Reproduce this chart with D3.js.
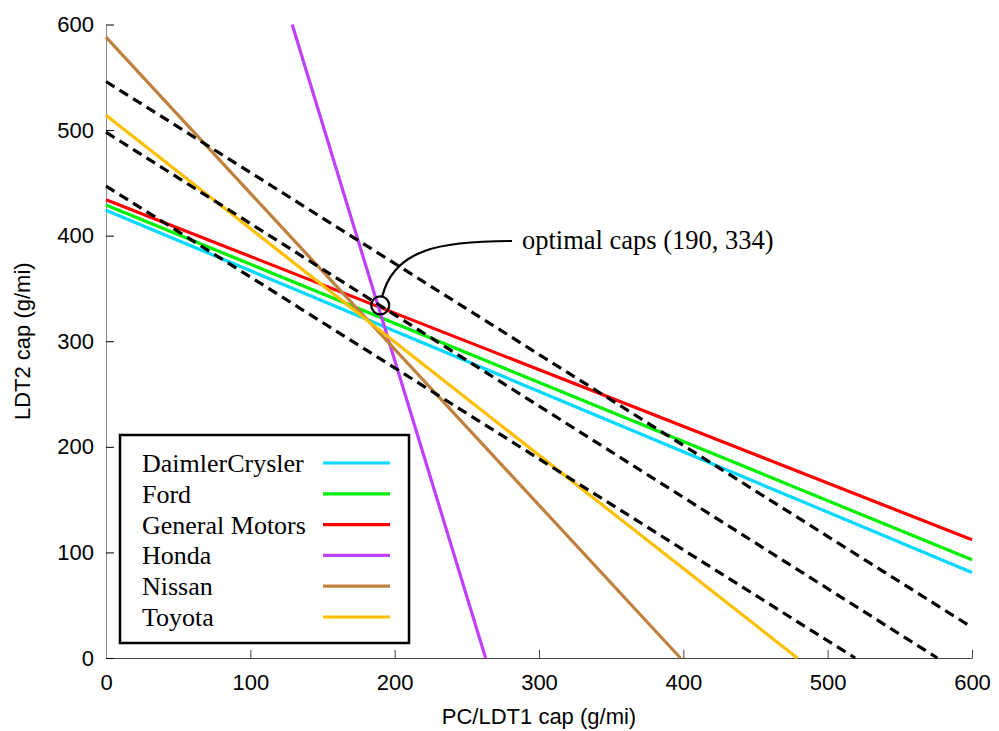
<!DOCTYPE html>
<html>
<head>
<meta charset="utf-8">
<script src="https://cdn.jsdelivr.net/npm/d3@7"></script>
<style>
  body { margin: 0; background: #fff; }
  .tick text { font-family: "Liberation Sans", Arial, sans-serif; font-size: 22px; fill: #000; }
</style>
</head>
<body>
<svg id="chart" width="999" height="731"></svg>
<script>
// company lines, each one given by two end points (x, y) in g/mi
const companies = ['DaimlerCrysler', 'Ford', 'General Motors', 'Honda', 'Nissan', 'Toyota']
const colors = ['#00d8ff', '#00ee00', '#ff0000', '#c040ff', '#c0803e', '#ffbe00']
const lineStart = [[0, 424], [0, 429], [0, 434], [129, 600], [0, 588], [0, 514]]
const lineEnd = [[600, 81], [600, 93], [600, 112], [263, 0], [398, 0], [479, 0]]

// dashed iso lines
const dashStart = [[0, 546], [0, 498], [0, 447]]
const dashEnd = [[600, 29], [576, 0], [519, 0]]

const optimum = [190, 334]
const optimumLabel = 'optimal caps (190, 334)'

const xTicks = [0, 100, 200, 300, 400, 500, 600]
const yTicks = [0, 100, 200, 300, 400, 500, 600]

const svg = d3.select('#chart')

const x = d3.scaleLinear().domain([0, 600]).range([106, 972])
const y = d3.scaleLinear().domain([0, 600]).range([658, 24.5])

// axes (ticks point inwards)
svg.append('g')
	.attr('transform', 'translate(0,' + y(0) + ')')
	.call(d3.axisBottom(x).tickValues(xTicks).tickSizeInner(-8).tickSizeOuter(0).tickPadding(16))
	.call(g => g.select('.domain').attr('stroke', '#444'))
	.call(g => g.selectAll('.tick line').attr('stroke', '#444'))

svg.append('g')
	.attr('transform', 'translate(' + x(0) + ',0)')
	.call(d3.axisLeft(y).tickValues(yTicks).tickSizeInner(-8).tickSizeOuter(0).tickPadding(12))
	.call(g => g.select('.domain').attr('stroke', '#888'))
	.call(g => g.selectAll('.tick line').attr('stroke', '#000'))

// axis titles
svg.append('text')
	.attr('x', (x(0) + x(600)) / 2)
	.attr('y', 724)
	.attr('text-anchor', 'middle')
	.style('font-family', '"Liberation Sans", Arial, sans-serif')
	.style('font-size', '22px')
	.text('PC/LDT1 cap (g/mi)')

svg.append('text')
	.attr('transform', 'translate(30,' + (y(0) + y(600)) / 2 + ') rotate(-90)')
	.attr('text-anchor', 'middle')
	.style('font-family', '"Liberation Sans", Arial, sans-serif')
	.style('font-size', '22px')
	.text('LDT2 cap (g/mi)')

const line = d3.line()
	.x(d => x(d[0]))
	.y(d => y(d[1]))

// company lines
companies.forEach((c, i) => {
	svg.append('path')
		.datum([lineStart[i], lineEnd[i]])
		.attr('fill', 'none')
		.attr('stroke', colors[i])
		.attr('stroke-width', 3.2)
		.attr('d', line)
})

// dashed lines on top
dashStart.forEach((s, i) => {
	svg.append('path')
		.datum([s, dashEnd[i]])
		.attr('fill', 'none')
		.attr('stroke', '#000')
		.attr('stroke-width', 3.2)
		.attr('stroke-dasharray', '10,6')
		.attr('d', line)
})

// optimum marker + callout
const ox = x(optimum[0]), oy = y(optimum[1])
const r = 9
svg.append('circle')
	.attr('cx', ox)
	.attr('cy', oy)
	.attr('r', r)
	.attr('fill', 'none')
	.attr('stroke', '#000')
	.attr('stroke-width', 2.2)

const tx = 522, ty = 241
svg.append('path')
	.attr('fill', 'none')
	.attr('stroke', '#000')
	.attr('stroke-width', 2.2)
	.attr('d', `M ${ox + 2} ${oy - r} C ${ox + 14} ${ty + 8}, ${ox + 60} ${ty}, ${tx - 10} ${ty}`)

svg.append('text')
	.attr('x', tx)
	.attr('y', ty + 8)
	.style('font-family', '"Liberation Serif", "Times New Roman", serif')
	.style('font-size', '26.5px')
	.text(optimumLabel)

// legend
const legend = svg.append('g')
legend.append('rect')
	.attr('x', 120)
	.attr('y', 435)
	.attr('width', 289)
	.attr('height', 208)
	.attr('fill', '#fff')
	.attr('stroke', '#000')
	.attr('stroke-width', 2.5)

companies.forEach((c, i) => {
	const ly = 463 + i * 30.8
	legend.append('text')
		.attr('x', 142)
		.attr('y', ly + 9)
		.style('font-family', '"Liberation Serif", "Times New Roman", serif')
		.style('font-size', '26px')
		.text(c)
	legend.append('line')
		.attr('x1', 323)
		.attr('x2', 390)
		.attr('y1', ly)
		.attr('y2', ly)
		.attr('stroke', colors[i])
		.attr('stroke-width', 3.2)
})
</script>
</body>
</html>
